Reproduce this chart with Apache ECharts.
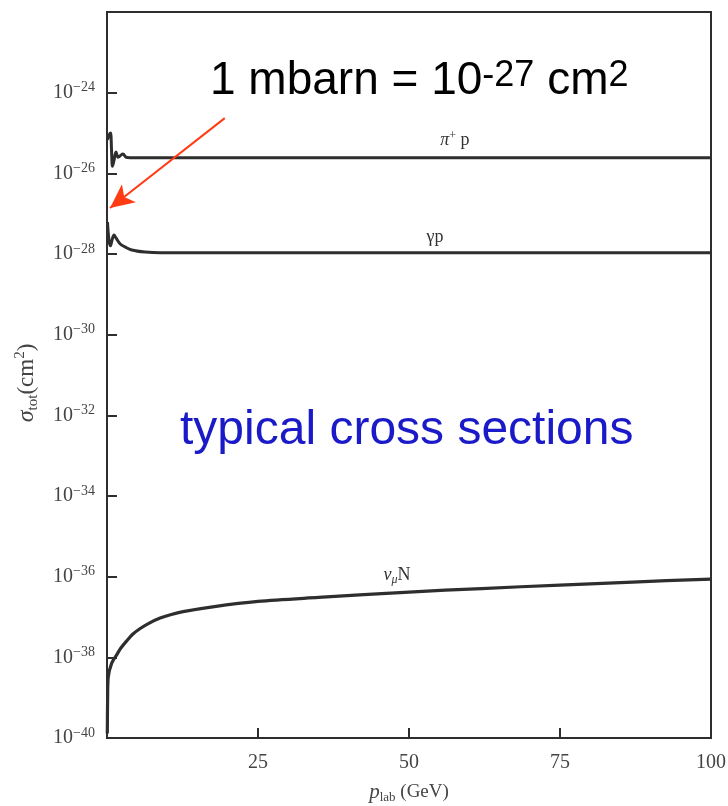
<!DOCTYPE html>
<html>
<head>
<meta charset="utf-8">
<script src="https://cdn.jsdelivr.net/npm/echarts@6/dist/echarts.min.js"></script>
<style>
html,body{margin:0;padding:0;background:#fff;}
#c{width:728px;height:806px;}
</style>
</head>
<body>
<div id="c"></div>
<script>
// ---- data (x: p_lab in GeV, y: sigma_tot in cm^2) ----
const pipX = [0.08, 0.33, 0.58, 0.75, 0.91, 1.16, 1.49, 1.82, 2.15, 2.65, 3.15, 3.8, 25, 50, 75, 100];
const pipY = [6.8e-26, 8.9e-26, 1.0e-25, 3.8e-26, 1.5e-26, 2.1e-26, 3.4e-26, 2.5e-26, 2.7e-26, 3.0e-26, 2.5e-26, 2.45e-26, 2.45e-26, 2.45e-26, 2.45e-26, 2.45e-26];

const gpX = [0.08, 0.33, 0.58, 0.83, 1.16, 1.49, 2.15, 2.98, 4.1, 6.3, 8.8, 25, 50, 75, 100];
const gpY = [6.2e-28, 2.2e-28, 1.6e-28, 2.2e-28, 2.95e-28, 2.5e-28, 1.8e-28, 1.5e-28, 1.26e-28, 1.12e-28, 1.07e-28, 1.07e-28, 1.07e-28, 1.07e-28, 1.07e-28];

const nuX = [0.05, 0.1, 0.2, 0.78, 1.6, 2.3, 3.3, 4.3, 5.5, 7, 8.8, 10.5, 12.6, 17.5, 25, 35, 50, 62, 75, 87, 100];
const nuY = [1.3e-40, 8.7e-40, 3.2e-39, 7.2e-39, 1.15e-38, 1.7e-38, 2.6e-38, 3.78e-38, 5.2e-38, 7.08e-38, 9.42e-38, 1.14e-37, 1.36e-37, 1.79e-37, 2.43e-37, 3.05e-37, 4.16e-37, 5.08e-37, 6.19e-37, 7.36e-37, 8.73e-37];

const xTicks = [0, 25, 50, 75, 100];
const yExpTicks = [-40, -38, -36, -34, -32, -30, -28, -26, -24, -22];

// annotation anchors (data space, cm^2)
const pipLabelAt = [57.6, 2.45e-26];
const gpLabelAt = [54.3, 1.07e-28];
const nuLabelAt = [48, 4.1e-37];
const arrowFrom = [19.5, 2.34e-25];
const arrowTo = [0.5, 1.38e-27];

// ECharts rounds tiny numbers on log axes, so plot in units of 1e-40 cm^2
const UNIT = 1e-40;
const u = v => v / UNIT;
const zip = (xs, ys) => xs.map((x, i) => [x, u(ys[i])]);
const pt = p => [p[0], u(p[1])];
const serif = '"Liberation Serif", "DejaVu Serif", serif';
const sans = '"Liberation Sans", Arial, sans-serif';
const lineCol = '#2e2e2e';

const chart = echarts.init(document.getElementById('c'), null, {renderer: 'canvas'});

function seriesLabel(coord, text, rich) {
  return {
    symbol: 'circle', symbolSize: 1, silent: true,
    itemStyle: {color: 'rgba(0,0,0,0)'},
    data: [{coord: pt(coord), value: 0}],
    label: {
      show: true, position: 'top', distance: 6,
      formatter: text, fontFamily: serif, fontSize: 18, color: '#333',
      rich: rich
    }
  };
}

const option = {
  animation: false,
  backgroundColor: '#fff',
  grid: {
    left: 107, right: 17, top: 12, bottom: 68,
    outerBoundsMode: 'none', containLabel: false,
    show: true, borderColor: lineCol, borderWidth: 2, backgroundColor: 'transparent'
  },
  xAxis: {
    type: 'value', min: xTicks[0], max: xTicks[xTicks.length - 1], interval: 25,
    axisLine: {show: true, lineStyle: {color: lineCol, width: 2}},
    axisTick: {show: true, inside: true, length: 10, lineStyle: {color: lineCol, width: 2}},
    splitLine: {show: false},
    axisLabel: {
      margin: 15, fontFamily: serif, fontSize: 20, color: '#444',
      formatter: v => (v === 0 ? '' : String(v))
    },
    name: '{p|p}{sub|lab} (GeV)',
    nameLocation: 'middle', nameGap: 42,
    nameTextStyle: {
      fontFamily: serif, fontSize: 19, color: '#444',
      rich: {
        p: {fontFamily: serif, fontStyle: 'italic', fontSize: 21, color: '#444', lineHeight: 24},
        sub: {fontFamily: serif, fontSize: 13, color: '#444', verticalAlign: 'bottom', lineHeight: 15}
      }
    }
  },
  yAxis: {
    type: 'log', logBase: 100, min: u(1e-40), max: u(1e-22), splitNumber: 9,
    axisLine: {show: true, lineStyle: {color: lineCol, width: 2}},
    axisTick: {show: true, inside: true, length: 10, lineStyle: {color: lineCol, width: 2}},
    splitLine: {show: false},
    minorTick: {show: false},
    axisLabel: {
      margin: 12,
      formatter: function (v) {
        const e = Math.round(Math.log10(v * UNIT));
        if (yExpTicks.indexOf(e) < 0 || e === -22) return '';
        return '{b|10}{s|\u2212' + Math.abs(e) + '}';
      },
      rich: {
        b: {fontFamily: serif, fontSize: 20, color: '#444', lineHeight: 24},
        s: {fontFamily: serif, fontSize: 14, color: '#444', verticalAlign: 'top', lineHeight: 15}
      }
    },
    name: '{s|\u03c3}{sub|tot}(cm{sup|2})',
    nameLocation: 'middle', nameGap: 66,
    nameTextStyle: {
      fontFamily: serif, fontSize: 23, color: '#444',
      padding: [0, 16, 0, 0],
      rich: {
        s: {fontFamily: serif, fontStyle: 'italic', fontSize: 24, color: '#444', lineHeight: 28},
        sub: {fontFamily: serif, fontSize: 15, color: '#444', verticalAlign: 'bottom', lineHeight: 16},
        sup: {fontFamily: serif, fontSize: 15, color: '#444', verticalAlign: 'top', lineHeight: 16}
      }
    }
  },
  series: [
    {
      name: 'pi+ p', type: 'line', data: zip(pipX, pipY), smooth: 0.35, showSymbol: false,
      lineStyle: {color: lineCol, width: 3}, z: 3,
      markPoint: seriesLabel(pipLabelAt, '{i|\u03c0}{sup|+} p', {
        i: {fontFamily: serif, fontStyle: 'italic', fontSize: 18, color: '#333', lineHeight: 21},
        sup: {fontFamily: serif, fontSize: 12, color: '#333', verticalAlign: 'top', lineHeight: 13}
      }),
      markLine: {
        silent: true, symbol: ['none', 'arrow'], symbolSize: [17, 24],
        lineStyle: {color: '#ff3b14', width: 2, type: 'solid'},
        label: {show: false},
        data: [[{coord: pt(arrowFrom)}, {coord: pt(arrowTo)}]]
      }
    },
    {
      name: 'gamma p', type: 'line', data: zip(gpX, gpY), smooth: 0.35, showSymbol: false,
      lineStyle: {color: lineCol, width: 3}, z: 3,
      markPoint: seriesLabel(gpLabelAt, '\u03b3p', {})
    },
    {
      name: 'nu_mu N', type: 'line', data: zip(nuX, nuY), smooth: 0.3, showSymbol: false,
      lineStyle: {color: lineCol, width: 3.2}, z: 3,
      markPoint: seriesLabel(nuLabelAt, '{i|\u03bd}{sub|\u03bc}N', {
        i: {fontFamily: serif, fontStyle: 'italic', fontSize: 18, color: '#333', lineHeight: 21},
        sub: {fontFamily: serif, fontStyle: 'italic', fontSize: 12, color: '#333', verticalAlign: 'bottom', lineHeight: 13}
      })
    }
  ],
  graphic: [
    {
      type: 'text', left: 210, top: 58, z: 10,
      style: {
        text: '{m|1 mbarn = 10}{s|-27}{m| cm}{s|2}',
        rich: {
          m: {fontFamily: sans, fontSize: 46, fill: '#000', lineHeight: 46},
          s: {fontFamily: sans, fontSize: 36, fill: '#000', verticalAlign: 'top', lineHeight: 42}
        }
      }
    },
    {
      type: 'text', left: 180, top: 407, z: 10,
      style: {
        text: 'typical cross sections',
        fontFamily: sans, fontSize: 48, fill: '#1a1ac8'
      }
    }
  ]
};
chart.setOption(option);
</script>
</body>
</html>
